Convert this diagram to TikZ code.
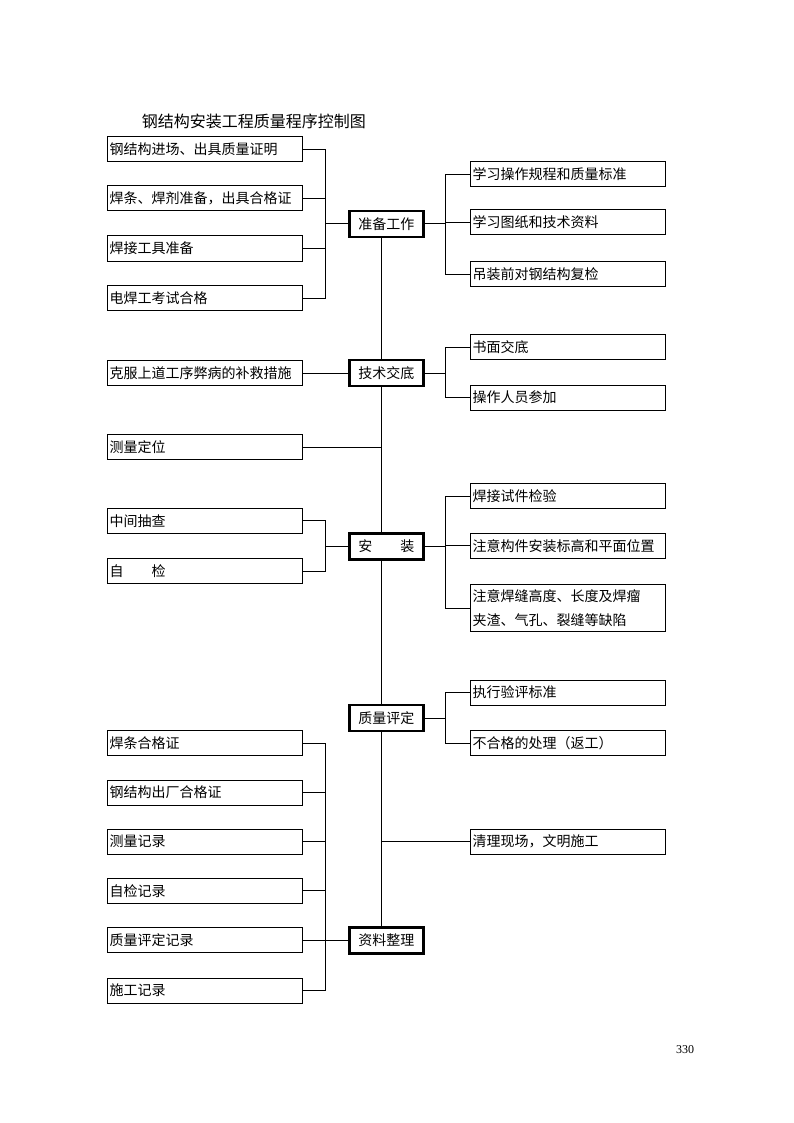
\documentclass[tikz,border=0pt]{standalone}
\usepackage{fontspec}
\setmainfont{Noto Sans CJK SC}
\newfontfamily\numfont{Liberation Serif}

\tikzset{
  item/.style={draw, line width=1pt, anchor=west, minimum height=25pt,
    inner xsep=2pt, inner ysep=0pt, text width=191pt, align=left,
    font=\fontsize{14}{24}\selectfont},
  stage/.style={draw, line width=2.4pt, minimum width=74pt, minimum height=26pt,
    inner sep=0pt, font=\fontsize{14}{18}\selectfont},
  link/.style={line width=1pt}
}

\begin{document}
\begin{tikzpicture}[x=1pt,y=-1pt]
    \useasboundingbox (0,0) rectangle (794,1123);
    \node[anchor=west, inner sep=0pt, font=\fontsize{16}{18}\selectfont] (title) at (141.7,121) {钢结构安装工程质量程序控制图};
    \coordinate (brL) at (325.5,0);
    \coordinate (brR) at (445.3,0);
    \coordinate (spine) at (381.3,0);

    % stages
    \node[stage] (prep) at (386.3,224) {准备工作};
    \node[stage] (brief) at (386.3,373) {技术交底};
    \node[stage] (inst) at (386.3,546.3) {安　　装};
    \node[stage] (eval) at (386.3,718) {质量评定};
    \node[stage] (docs) at (386.3,940.3) {资料整理};

    % left column
    \node[item] (prepL1) at (107,149.5) {钢结构进场、出具质量证明};
    \node[item] (prepL2) at (107,198.5) {焊条、焊剂准备，出具合格证};
    \node[item] (prepL3) at (107,248.5) {焊接工具准备};
    \node[item] (prepL4) at (107,298) {电焊工考试合格};
    \node[item] (briefL) at (107,373) {克服上道工序弊病的补救措施};
    \node[item] (survey) at (107,447.2) {测量定位};
    \node[item] (instL1) at (107,520.8) {中间抽查};
    \node[item] (instL2) at (107,571) {自　　检};
    \node[item] (docsL1) at (107,743) {焊条合格证};
    \node[item] (docsL2) at (107,792.5) {钢结构出厂合格证};
    \node[item] (docsL3) at (107,841.7) {测量记录};
    \node[item] (docsL4) at (107,890.8) {自检记录};
    \node[item] (docsL5) at (107,940.3) {质量评定记录};
    \node[item] (docsL6) at (107,990.5) {施工记录};

    % right column
    \node[item] (prepR1) at (470,174.3) {学习操作规程和质量标准};
    \node[item] (prepR2) at (470,222.5) {学习图纸和技术资料};
    \node[item] (prepR3) at (470,274) {吊装前对钢结构复检};
    \node[item] (briefR1) at (470,347) {书面交底};
    \node[item] (briefR2) at (470,397.5) {操作人员参加};
    \node[item] (instR1) at (470,496.3) {焊接试件检验};
    \node[item] (instR2) at (470,545.8) {注意构件安装标高和平面位置};
    \node[item, minimum height=47pt] (instR3) at (470,608.3) {注意焊缝高度、长度及焊瘤\\夹渣、气孔、裂缝等缺陷};
    \node[item] (evalR1) at (470,692.5) {执行验评标准};
    \node[item] (evalR2) at (470,743) {不合格的处理（返工）};
    \node[item] (clean) at (470,841.5) {清理现场，文明施工};

    \node[font=\numfont\fontsize{12}{14}\selectfont, inner sep=0pt] (page) at (685,1050) {330};

    % spine
    \foreach \u/\v in {prep/brief, brief/inst, inst/eval, eval/docs}
      \draw[link] (\u.south -| spine) -- (\v.north -| spine);

    % left brackets
    \foreach \n in {prepL1,prepL2,prepL3,prepL4,instL1,instL2,docsL1,docsL2,docsL3,docsL4,docsL6}
      \draw[link] (\n.east) -- (\n.east -| brL);
    \draw[link] (prepL1.east -| brL) -- (prepL4.east -| brL);
    \draw[link] (instL1.east -| brL) -- (instL2.east -| brL);
    \draw[link] (docsL1.east -| brL) -- (docsL6.east -| brL);
    \draw[link] (prep.west -| brL) -- (prep.west);
    \draw[link] (inst.west -| brL) -- (inst.west);
    \draw[link] (docsL5.east) -- (docs.west);
    \draw[link] (briefL.east) -- (brief.west);
    \draw[link] (survey.east) -- (survey.east -| spine);

    % right brackets
    \foreach \n in {prepR1,prepR2,prepR3,briefR1,briefR2,instR1,instR2,instR3,evalR1,evalR2}
      \draw[link] (\n.west -| brR) -- (\n.west);
    \draw[link] (prepR1.west -| brR) -- (prepR3.west -| brR);
    \draw[link] (briefR1.west -| brR) -- (briefR2.west -| brR);
    \draw[link] (instR1.west -| brR) -- (instR3.west -| brR);
    \draw[link] (evalR1.west -| brR) -- (evalR2.west -| brR);
    \foreach \s in {prep,brief,inst,eval}
      \draw[link] (\s.east) -- (\s.east -| brR);
    \draw[link] (clean.west -| spine) -- (clean.west);
\end{tikzpicture}
\end{document}
